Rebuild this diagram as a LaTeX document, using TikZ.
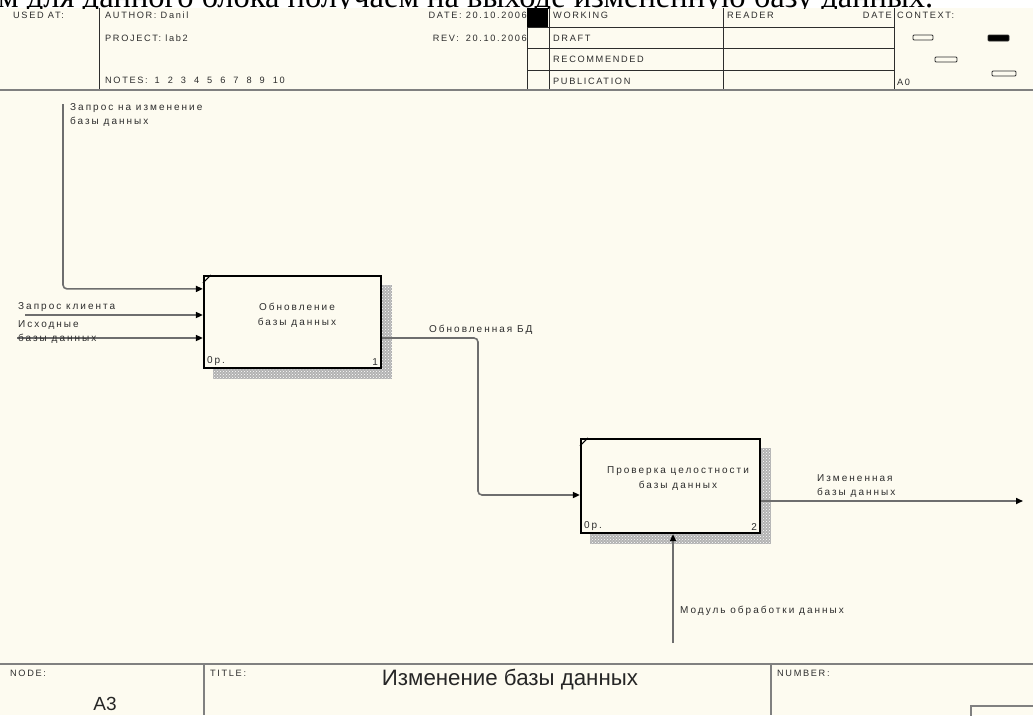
\documentclass[tikz,border=0pt]{standalone}
\usepackage{fontspec}
\setmainfont{Liberation Sans}
\newfontfamily\hdrfont[LetterSpace=18]{Liberation Sans}
\newfontfamily\labfont[LetterSpace=20]{Liberation Sans}
\newfontfamily\topserif{Liberation Serif}
\usetikzlibrary{arrows.meta,patterns,calc}
\definecolor{cream}{RGB}{253,251,240}
\definecolor{ink}{RGB}{45,45,45}
\definecolor{wirec}{RGB}{110,110,110}
\pgfdeclarelayer{bg}
\pgfdeclarelayer{shad}
\pgfsetlayers{bg,shad,main}
\begin{document}
\begin{tikzpicture}[x=1pt,y=-1pt,
  hdrtxt/.style={font=\hdrfont\fontsize{9.2}{10}\selectfont, text=ink, inner sep=0pt, anchor=west},
  labtxt/.style={font=\labfont\fontsize{10}{14.5}\selectfont, text=ink, inner sep=0pt, anchor=west, align=left},
  boxtxt/.style={font=\labfont\fontsize{10}{15}\selectfont, text=ink, inner sep=0pt, align=center},
  rule/.style={draw=ink, line width=0.9pt},
  proc/.style={draw=black, line width=2.2pt, fill=cream, inner sep=0pt},
  shadowfill/.style={fill=gray!60},
  shadowdots/.style={pattern=crosshatch dots, pattern color=white},
  wire/.style={draw=wirec, line width=1.6pt, rounded corners=4pt, -{Triangle[length=7pt,width=6pt,color=black]}},
  ctxbox/.style={draw=ink, line width=0.8pt, rounded corners=1pt}
]
\useasboundingbox (0,0) rectangle (1033,715);
\begin{pgfonlayer}{bg}
  \fill[white] (0,0) rectangle (1033,715);
  \fill[cream] (0,8) rectangle (1033,715);
\end{pgfonlayer}

% cut-off line of text at the very top
\begin{scope}
  \clip (0,0) rectangle (1033,8.5);
  \node[font=\topserif\fontsize{32.5}{32}\selectfont, inner sep=0pt, anchor=base west] (toptext) at (-2,7) {м для данного блока получаем на выходе измененную базу данных.};
\end{scope}

% ---------------- header ----------------
\draw[rule] (99,8) -- (99,89);
\draw[rule] (527,8) -- (527,89);
\draw[rule] (549,8) -- (549,89);
\draw[rule] (723,8) -- (723,89);
\draw[rule] (894,8) -- (894,89);
\draw[rule] (527,27) -- (894,27);
\draw[rule] (527,48) -- (894,48);
\draw[rule] (527,70) -- (894,70);
\fill[black] (527,8) rectangle (548,27);
\draw[draw=gray, line width=1.6pt] (0,90) -- (1033,90);

\node[hdrtxt] (usedat) at (13,15) {USED AT:};
\node[hdrtxt] (author) at (105,15) {AUTHOR: Danil};
\node[hdrtxt] (project) at (105,38) {PROJECT: lab2};
\node[hdrtxt] (notes) at (105,80) {NOTES:\hspace{7pt}{\spaceskip=8pt 1 2 3 4 5 6 7 8 9 10}};
\node[hdrtxt, anchor=east] (date) at (527,15) {DATE: 20.10.2006};
\node[hdrtxt, anchor=east] (rev) at (527,38) {REV:\hspace{7pt}20.10.2006};
\node[hdrtxt] (working) at (553,15) {WORKING};
\node[hdrtxt] (draft) at (553,38) {DRAFT};
\node[hdrtxt] (recommended) at (553,59) {RECOMMENDED};
\node[hdrtxt] (publication) at (553,81) {PUBLICATION};
\node[hdrtxt] (reader) at (727,15) {READER};
\node[hdrtxt, anchor=east] (rdate) at (892,15) {DATE};
\node[hdrtxt] (context) at (897,15) {CONTEXT:};
\node[hdrtxt] (a0) at (897,82) {A0};
\draw[ctxbox] (913,35) rectangle (933,40);
\filldraw[ctxbox, fill=black] (988,35) rectangle (1009,41);
\draw[ctxbox] (935,57) rectangle (957,62);
\draw[ctxbox] (992,71) rectangle (1016,76);

% ---------------- activity boxes ----------------
\node[proc, minimum width=177pt, minimum height=92pt] (b1) at (292.5,322) {};
\node[proc, minimum width=179pt, minimum height=94pt] (b2) at (670.5,486) {};
\begin{pgfonlayer}{shad}
  \fill[shadowfill] ($(b1.north west)+(10,10)$) rectangle ($(b1.south east)+(10,10)$);
  \fill[shadowdots] ($(b1.north west)+(10,10)$) rectangle ($(b1.south east)+(10,10)$);
  \fill[shadowfill] ($(b2.north west)+(10,10)$) rectangle ($(b2.south east)+(10,10)$);
  \fill[shadowdots] ($(b2.north west)+(10,10)$) rectangle ($(b2.south east)+(10,10)$);
\end{pgfonlayer}
\draw[black, line width=1pt] ($(b1.north west)+(8,0)$) -- ($(b1.north west)+(0,8)$);
\draw[black, line width=1pt] ($(b2.north west)+(8,0)$) -- ($(b2.north west)+(0,8)$);

\node[boxtxt] (t1) at (297,315) {Обновление\\базы данных};
\node[boxtxt] (t2) at (678,479) {Проверка целостности\\базы данных};
\node[labtxt, anchor=south west] (cost1) at ($(b1.south west)+(4,-3)$) {0р.};
\node[labtxt, anchor=south east] (num1) at ($(b1.south east)+(-4,-3)$) {1};
\node[labtxt, anchor=south west] (cost2) at ($(b2.south west)+(4,-3)$) {0р.};
\node[labtxt, anchor=south east] (num2) at ($(b2.south east)+(-4,-3)$) {2};

% ---------------- arrows ----------------
\coordinate (c1) at (63,104);
\coordinate (c2) at (25,315);
\coordinate (c3) at (17,338);
\coordinate (bend) at (478,338);
\coordinate (e2) at (1023,501);
\coordinate (m) at (673,643);

\draw[wire] (c1) |- ($(b1.north west)+(0,14)$);
\draw[wire] (c2) -- (c2 -| b1.west);
\draw[wire] (c3) -- (c3 -| b1.west);
\draw[wire] (b1.east |- bend) -- (bend) |- (b2.west |- 0,495);
\draw[wire] (b2.east |- e2) -- (e2);
\draw[wire] (m) -- (m |- b2.south);

\node[labtxt] (l1) at (70,115) {Запрос на изменение\\базы данных};
\node[labtxt] (l2) at (18,307) {Запрос клиента};
\node[labtxt] (l3) at (18,332) {Исходные\\базы данных};
\node[labtxt] (l4) at (429,330) {Обновленная БД};
\node[labtxt] (l5) at (817,486) {Измененная\\базы данных};
\node[labtxt] (l6) at (680,611) {Модуль обработки данных};

% ---------------- footer ----------------
\draw[draw=gray, line width=1.6pt] (0,664) -- (1033,664);
\draw[draw=gray, line width=1.2pt] (204,664) -- (204,715);
\draw[draw=gray, line width=1.2pt] (771,664) -- (771,715);
\draw[draw=gray, line width=1.2pt] (971,720) |- (1040,706);
\node[hdrtxt] (node) at (10,673) {NODE:};
\node[hdrtxt] (title) at (210,673) {TITLE:};
\node[hdrtxt] (number) at (777,673) {NUMBER:};
\node[font=\fontsize{22.3}{23}\selectfont, text=black!85, inner sep=0pt] (titletext) at (510,680) {Изменение базы данных};
\node[font=\fontsize{19}{20}\selectfont, text=black!85, inner sep=0pt] (nodeid) at (105,704) {A3};
\end{tikzpicture}
\end{document}
